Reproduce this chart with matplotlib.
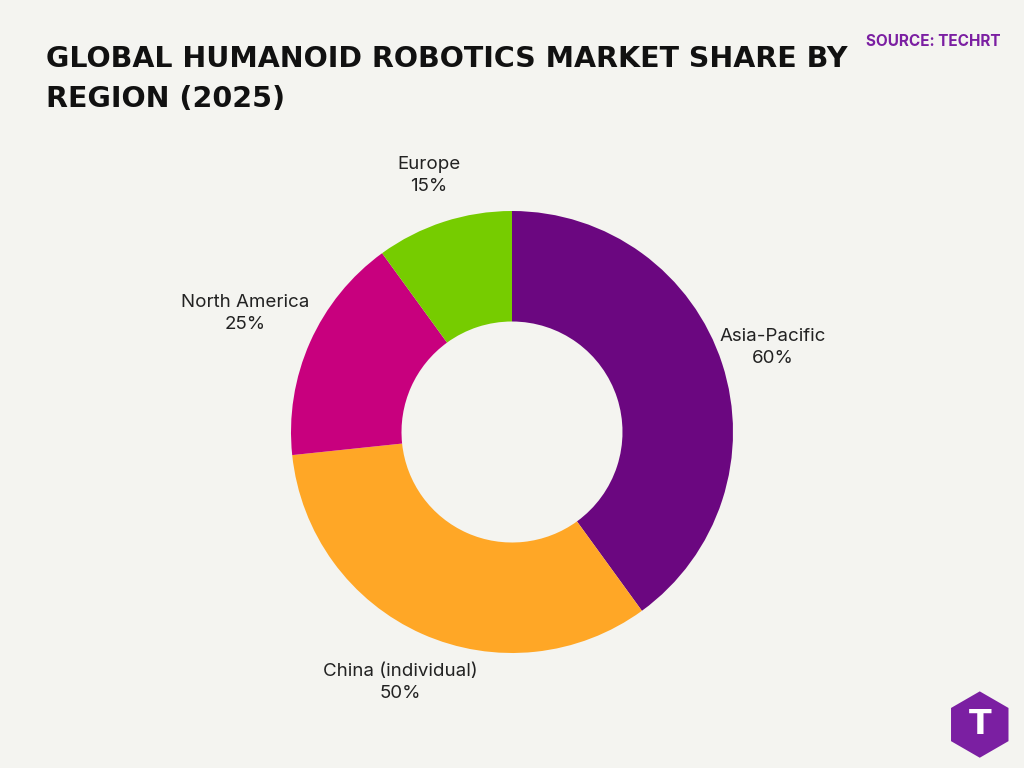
import matplotlib
matplotlib.use("Agg")
import matplotlib.pyplot as plt
import numpy as np
from matplotlib.patches import RegularPolygon

labels = ["Asia-Pacific", "China (individual)", "North America", "Europe"]
values = [60, 50, 25, 15]
colors = ["#6B0780", "#FFA726", "#C8007E", "#76CC00"]
bg = "#F4F4F0"

fig = plt.figure(figsize=(10.24, 7.68), dpi=100, facecolor=bg)
ax = fig.add_axes([291/1024, 115/768, 442/1024, 442/768])
ax.set_facecolor(bg)
wedges, _ = ax.pie(values, colors=colors, startangle=90, counterclock=False,
                   radius=1, wedgeprops=dict(width=0.5, edgecolor="none"))
ax.set_xlim(-1, 1); ax.set_ylim(-1, 1); ax.set_aspect("equal"); ax.axis("off")

dists = [1.24, 1.24, 1.32, 1.22]
for w, lab, v, d in zip(wedges, labels, values, dists):
    a = np.deg2rad((w.theta1 + w.theta2) / 2)
    ax.text(d*np.cos(a), d*np.sin(a), f"{lab}\n{v}%", ha="center", va="center",
            fontsize=13.5, family="Inter", color="#222222", linespacing=1.35,
            clip_on=False)

fig.text(46/1024, 1-45/768, "GLOBAL HUMANOID ROBOTICS MARKET SHARE BY\nREGION (2025)",
         ha="left", va="top", fontsize=20.5, weight="bold",
         family="DejaVu Sans", color="#111111", linespacing=1.55)
fig.text(1000/1024, 1-42/768, "SOURCE: TECHRT", ha="right", va="center",
         fontsize=11, weight="bold", family="Inter", color="#7B1FA2")

lax = fig.add_axes([945/1024, 0, 79/1024, 79/768])
lax.set_xlim(0, 1); lax.set_ylim(0, 1); lax.axis("off")
lax.add_patch(RegularPolygon((0.44, 0.55), 6, radius=0.42, orientation=0,
                             facecolor="#7B1FA2", edgecolor="none"))
lax.text(0.44, 0.55, "T", ha="center", va="center", fontsize=24, weight="bold",
         color="white", family="DejaVu Sans")

fig.savefig("out.png", dpi=100, facecolor=bg)
